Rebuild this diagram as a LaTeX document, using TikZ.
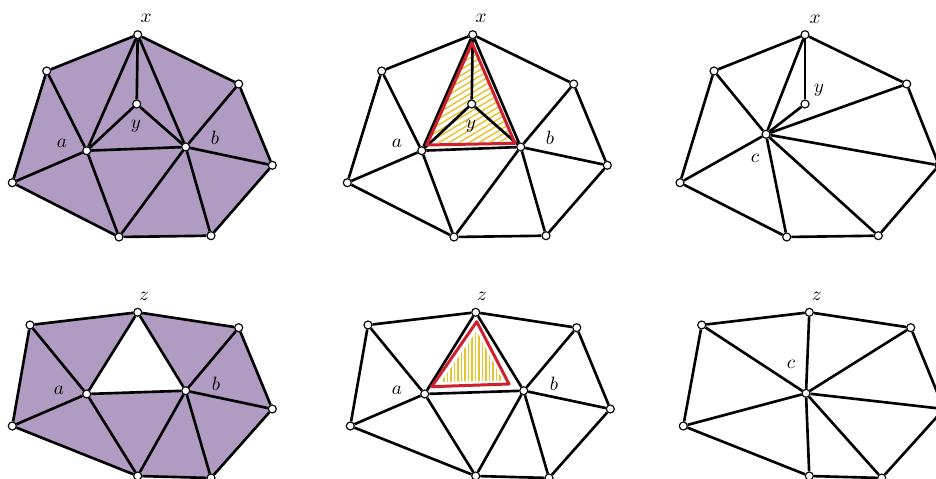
\documentclass[tikz,border=0pt]{standalone}
\usetikzlibrary{backgrounds}
\definecolor{meshpurple}{HTML}{B09BC2}
\definecolor{hatchred}{HTML}{D0202E}
\definecolor{hatchyellow}{HTML}{E8C42A}
\tikzset{
  vtx/.style={circle,draw=black,fill=white,line width=0.65pt,inner sep=0pt,minimum size=0.16cm},
  edge/.style={line width=1.5pt},
  lbl/.style={inner sep=0pt,font=\fontsize{11}{13}\selectfont},
  redtri/.style={draw=hatchred,line width=1.7pt,line join=round},
  hatchline/.style={draw=hatchyellow,line width=0.8pt},
  purplefill/.style={fill=meshpurple},
}
% top row mesh (with x and y)
\newcommand\topverts{
  \node[vtx] (x)  at (137.7,34.7) {};
  \node[vtx] (TL) at (46.7,71) {};
  \node[vtx] (Ru) at (238.7,84) {};
  \node[vtx] (y)  at (136.7,104) {};
  \node[vtx] (a)  at (86.7,150.7) {};
  \node[vtx] (b)  at (185.7,147) {};
  \node[vtx] (L)  at (12.3,182.7) {};
  \node[vtx] (R)  at (272.3,165.3) {};
  \node[vtx] (BL) at (119,237) {};
  \node[vtx] (BR) at (211,235.7) {};
  \foreach \p/\q in {x/TL,x/Ru,x/y,x/a,x/b,y/a,y/b,TL/a,TL/L,a/L,a/b,a/BL,L/BL,b/BL,b/BR,BL/BR,b/Ru,b/R,Ru/R,R/BR}
    \draw[edge] (\p) -- (\q);
  \node[lbl] (lx) at (146,18) {$x$};
  \node[lbl] (ly) at (136,126) {$y$};
  \node[lbl] (la) at (62,143) {$a$};
  \node[lbl] (lb) at (215,138) {$b$};
}
% bottom row mesh (with z)
\newcommand\botverts{
  \node[vtx] (z)  at (137.7,312.3) {};
  \node[vtx] (TL) at (30,325) {};
  \node[vtx] (Ru) at (238.7,327.7) {};
  \node[vtx] (a)  at (86.7,394) {};
  \node[vtx] (b)  at (185.7,390.7) {};
  \node[vtx] (L)  at (12.3,426) {};
  \node[vtx] (R)  at (272.3,409) {};
  \node[vtx] (BL) at (137.7,476) {};
  \node[vtx] (BR) at (211,478) {};
  \foreach \p/\q in {z/TL,z/Ru,z/a,z/b,TL/a,TL/L,L/a,a/b,a/BL,L/BL,BL/b,b/BR,b/Ru,b/R,Ru/R,R/BR,BL/BR}
    \draw[edge] (\p) -- (\q);
  \node[lbl] (lz) at (144,296) {$z$};
  \node[lbl] (la) at (59,390) {$a$};
  \node[lbl] (lb) at (216,384) {$b$};
}
\begin{document}
\begin{tikzpicture}[x=0.02cm,y=-0.02cm]
\useasboundingbox (0,0) rectangle (936,479);

% ---------- top left ----------
\begin{scope}[name prefix=tl-]
  \topverts
  \begin{pgfonlayer}{background}
    \fill[purplefill] (x.center) -- (Ru.center) -- (R.center) -- (BR.center) -- (BL.center) -- (L.center) -- (TL.center) -- cycle;
  \end{pgfonlayer}
\end{scope}

% ---------- top middle ----------
\begin{scope}[name prefix=tm-,shift={(335,0)}]
  \topverts
\end{scope}
\begin{pgfonlayer}{background}
  \begin{scope}
    \clip (472,46) -- (429,143) -- (513,141.5) -- cycle;
    \foreach \t in {-200,-190,...,200}
      \draw[hatchline] ({470+\t-150},{100+90}) -- ({470+\t+150},{100-90});
  \end{scope}
\end{pgfonlayer}
\draw[redtri] (472,43) -- (426.7,145) -- (515,143.3) -- cycle;

% ---------- top right ----------
\begin{scope}[name prefix=tr-]
  \node[vtx] (x)  at (805,34.7) {};
  \node[vtx] (TL) at (714,71) {};
  \node[vtx] (Ru) at (906.7,84) {};
  \node[vtx] (y)  at (805,104) {};
  \node[vtx] (c)  at (766,134.3) {};
  \node[vtx] (L)  at (680,182.7) {};
  \node[vtx] (R)  at (939,165.3) {};
  \node[vtx] (BL) at (786.7,237) {};
  \node[vtx] (BR) at (878.3,235.7) {};
  \foreach \p/\q in {x/TL,x/Ru,x/y,x/c,y/c,TL/c,TL/L,L/c,L/BL,c/BL,c/BR,c/R,c/Ru,Ru/R,R/BR,BL/BR}
    \draw[edge] (\p) -- (\q);
  \node[lbl] (lx) at (815,19) {$x$};
  \node[lbl] (ly) at (819,90) {$y$};
  \node[lbl] (lc) at (755,158) {$c$};
\end{scope}

% ---------- bottom left ----------
\begin{scope}[name prefix=bl-]
  \botverts
  \begin{pgfonlayer}{background}
    \fill[purplefill,even odd rule] (z.center) -- (Ru.center) -- (R.center) -- (BR.center) -- (BL.center) -- (L.center) -- (TL.center) -- cycle
      (z.center) -- (a.center) -- (b.center) -- cycle;
  \end{pgfonlayer}
\end{scope}

% ---------- bottom middle ----------
\begin{scope}[name prefix=bm-,shift={(338,0)}]
  \botverts
\end{scope}
\begin{pgfonlayer}{background}
  \begin{scope}
    \clip (476.7,331) -- (441,382) -- (503,380.5) -- cycle;
    \foreach \t in {437,440.5,...,507}
      \draw[hatchline] (\t,390) -- (\t,318);
  \end{scope}
\end{pgfonlayer}
\draw[redtri] (476.7,321.7) -- (431.7,386.7) -- (509,384) -- cycle;

% ---------- bottom right ----------
\begin{scope}[name prefix=br-]
  \node[vtx] (z)  at (809.3,312.3) {};
  \node[vtx] (TL) at (701.7,325) {};
  \node[vtx] (Ru) at (910.7,327.7) {};
  \node[vtx] (c)  at (806,393.3) {};
  \node[vtx] (L)  at (683.3,426) {};
  \node[vtx] (R)  at (944,409) {};
  \node[vtx] (BL) at (809.3,476) {};
  \node[vtx] (BR) at (881.7,478) {};
  \foreach \p/\q in {z/TL,z/Ru,z/c,TL/c,TL/L,L/c,L/BL,c/BL,c/BR,c/R,c/Ru,Ru/R,R/BR,BL/BR}
    \draw[edge] (\p) -- (\q);
  \node[lbl] (lz) at (816.7,296) {$z$};
  \node[lbl] (lc) at (791,364) {$c$};
\end{scope}
\end{tikzpicture}
\end{document}
